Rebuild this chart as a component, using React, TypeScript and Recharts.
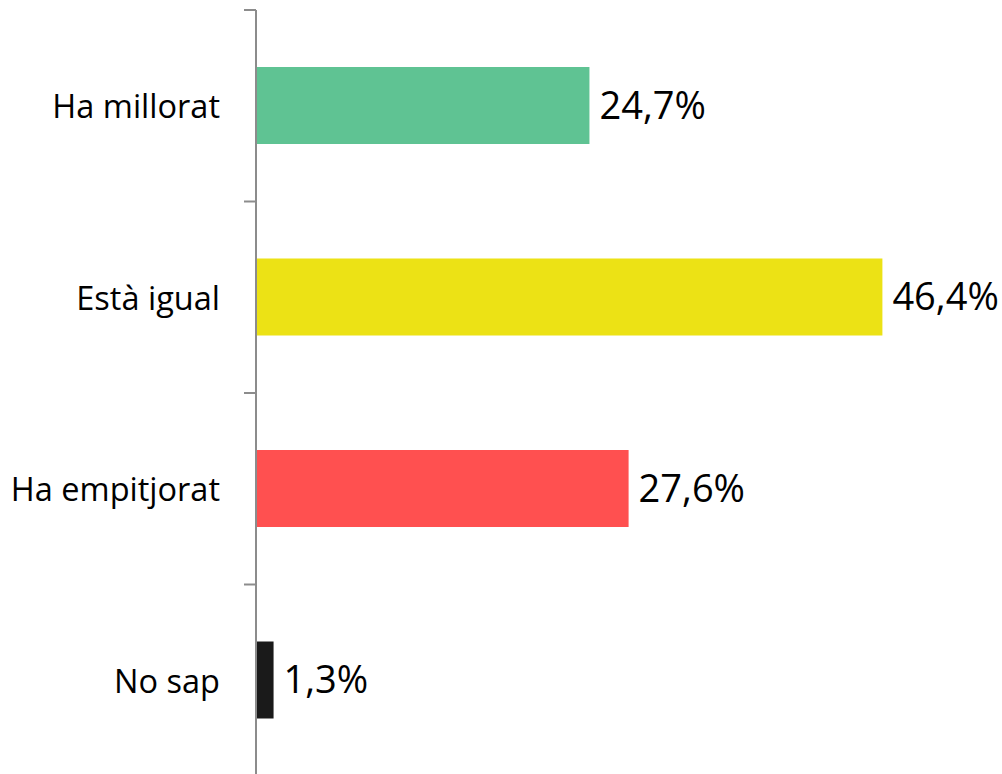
import { BarChart, Bar, XAxis, YAxis, Cell, LabelList } from 'recharts'

const categories = ['Ha millorat', 'Està igual', 'Ha empitjorat', 'No sap']
const values = [24.7, 46.4, 27.6, 1.3]
const colors = ['#5fc393', '#ece215', '#ff5050', '#1a1a1a']

const data = categories.map((name, i) => ({ name, value: values[i] }))

const CHART_W = 1002
const CHART_H = 786
const MARGIN = { top: 10, right: 71, bottom: 10, left: 0 }
const AXIS_W = 256
const TICK_SIZE = 12
const TICK_MARGIN = 24
const FONT = '"Open Sans", "DejaVu Sans", sans-serif'

const plotH = CHART_H - MARGIN.top - MARGIN.bottom
const halfBand = plotH / categories.length / 2

function CategoryTick(props: any) {
  const { x, y, payload, index } = props
  const axisX = x + TICK_SIZE + TICK_MARGIN
  const isLast = index === categories.length - 1
  return (
    <g>
      <line x1={axisX - TICK_SIZE} x2={axisX} y1={y - halfBand} y2={y - halfBand} stroke="#8c8c8c" strokeWidth={2} />
      {isLast && (
        <line x1={axisX - TICK_SIZE} x2={axisX} y1={y + halfBand} y2={y + halfBand} stroke="#8c8c8c" strokeWidth={2} />
      )}
      <text x={x} y={y} textAnchor="end" dominantBaseline="central" fontSize={32.5} fill="#000" fontFamily={FONT}>
        {payload.value}
      </text>
    </g>
  )
}

export default function App() {
  return (
    <div
      style={{
        position: 'absolute',
        left: 0,
        top: 0,
        width: CHART_W,
        height: 774,
        overflow: 'hidden',
        background: '#fff',
      }}
    >
      <BarChart width={CHART_W} height={CHART_H} data={data} layout="vertical" margin={MARGIN}>
        <XAxis type="number" domain={[0, 50]} hide />
        <YAxis
          type="category"
          dataKey="name"
          width={AXIS_W}
          axisLine={{ stroke: '#8c8c8c', strokeWidth: 2 }}
          tickLine={false}
          tickSize={TICK_SIZE}
          tickMargin={TICK_MARGIN}
          tick={<CategoryTick />}
          interval={0}
        />
        <Bar dataKey="value" barSize={77} isAnimationActive={false}>
          {data.map((d, i) => (
            <Cell key={d.name} fill={colors[i]} />
          ))}
          <LabelList
            dataKey="value"
            position="right"
            offset={10}
            formatter={(v: any) => `${String(v).replace('.', ',')}%`}
            style={{ fontSize: 38, fill: '#000', fontFamily: FONT }}
          />
        </Bar>
      </BarChart>
    </div>
  )
}
